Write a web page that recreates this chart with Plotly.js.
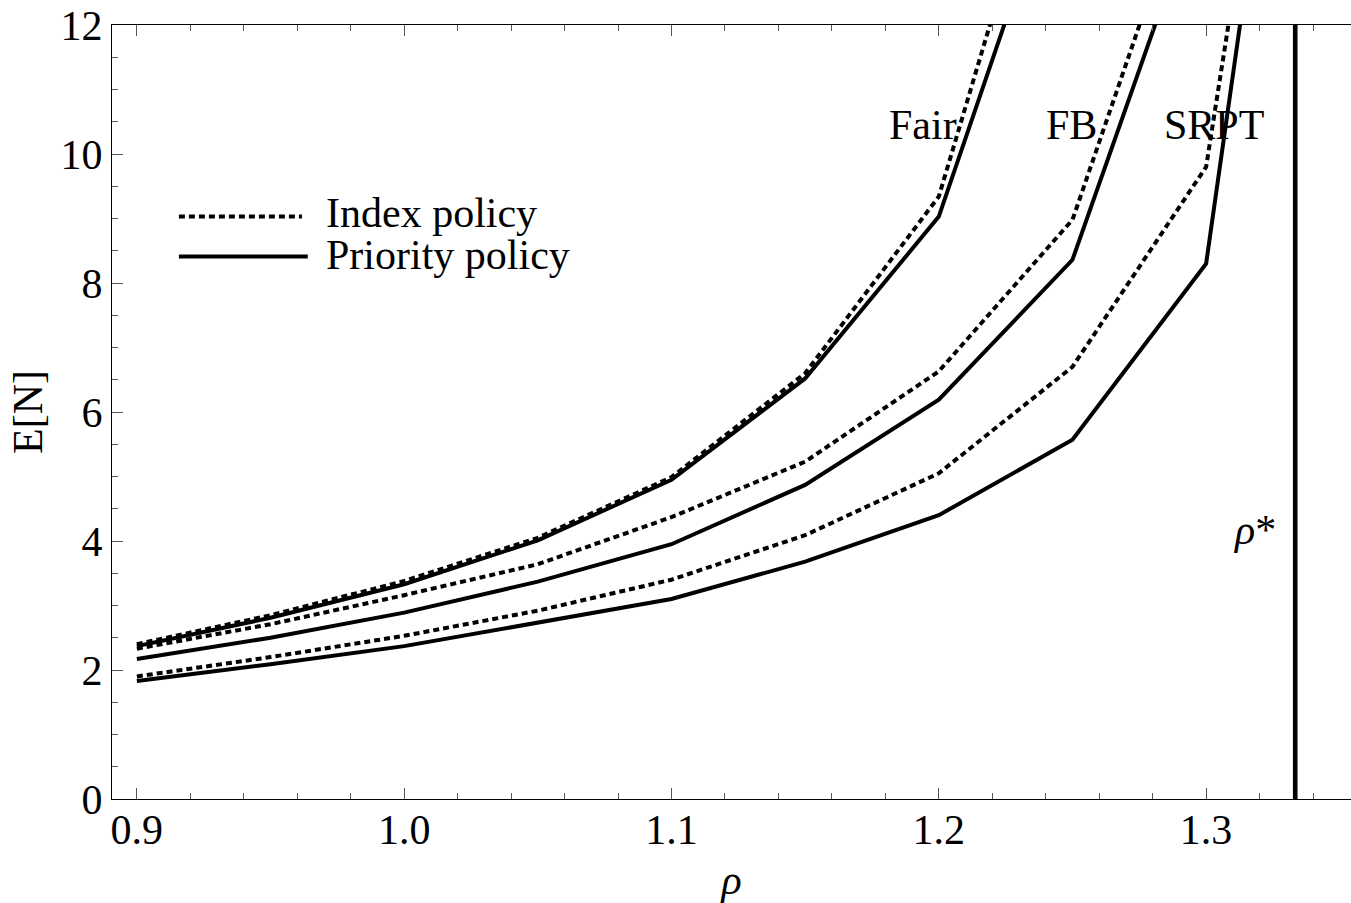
<!DOCTYPE html>
<html>
<head>
<meta charset="utf-8">
<script src="https://cdn.plot.ly/plotly-3.0.1.min.js"></script>
<style>
  html, body { margin: 0; padding: 0; background: #fff; }
  #chart { width: 1351px; height: 903px; }
</style>
</head>
<body>
<div id="chart"></div>
<script>
// Load values rho and mean number in system E[N] for each scheduling rule
const rho = [0.90, 0.95, 1.00, 1.05, 1.10, 1.15, 1.20, 1.25, 1.30, 1.35];

const fairIndex    = [2.40, 2.85, 3.38, 4.05, 4.99, 6.60, 9.34, 16.3];
const fairPriority = [2.37, 2.81, 3.33, 4.01, 4.95, 6.52, 9.03, 15.1];
const fbIndex      = [2.33, 2.71, 3.16, 3.64, 4.37, 5.23, 6.63, 8.98, 15.0];
const fbPriority   = [2.17, 2.50, 2.89, 3.37, 3.95, 4.87, 6.19, 8.36, 14.25];
const srptIndex    = [1.90, 2.20, 2.53, 2.92, 3.40, 4.09, 5.05, 6.70, 9.80, 23.0];
const srptPriority = [1.83, 2.09, 2.37, 2.73, 3.10, 3.68, 4.40, 5.57, 8.30, 22.9];

// Stability threshold rho*
const rhoStar = 4 / 3;
const yLimits = [0, 12];

// Curve labels: [text, rho, E[N]]
const curveLabels = [["Fair", 1.194, 10.45], ["FB", 1.2495, 10.45], ["SRPT", 1.303, 10.45]];
const legendItems = ["Index policy", "Priority policy"];

const DOTTED = { color: "black", width: 4, dash: "6px,4px" };
const SOLID  = { color: "black", width: 4 };

function curve(y, line) {
  return { x: rho.slice(0, y.length), y: y, mode: "lines", line: line,
           hoverinfo: "x+y", showlegend: false };
}

const traces = [
  curve(fairIndex, DOTTED), curve(fairPriority, SOLID),
  curve(fbIndex, DOTTED),   curve(fbPriority, SOLID),
  curve(srptIndex, DOTTED), curve(srptPriority, SOLID),
  { x: [rhoStar, rhoStar], y: yLimits, mode: "lines",
    line: { color: "black", width: 4.6 }, showlegend: false, hoverinfo: "x" }
];

const FONT = { family: "Liberation Serif, Times New Roman, serif", size: 42, color: "black" };
const TICKC = "#555";

const annotations = curveLabels.map(([t, x, y]) => ({
  text: t, x: x, y: y, xref: "x", yref: "y", showarrow: false,
  xanchor: "center", yanchor: "middle", font: FONT
}));
annotations.push({ text: "<i>ρ</i>*", x: 1.318, y: 4.17, xref: "x", yref: "y",
  showarrow: false, xanchor: "center", yanchor: "middle", font: FONT });

// Legend: long line samples with text to their right
const legendY = [0.757, 0.703];
const legendLineY = [0.7526, 0.701];
legendItems.forEach((t, i) => annotations.push({
  text: t, x: 0.1715, y: legendY[i], xref: "paper", yref: "paper", showarrow: false,
  xanchor: "left", yanchor: "middle", font: FONT
}));
const shapes = [
  { type: "line", xref: "paper", yref: "paper", x0: 0.054, x1: 0.1533,
    y0: legendLineY[0], y1: legendLineY[0], line: DOTTED },
  { type: "line", xref: "paper", yref: "paper", x0: 0.054, x1: 0.158,
    y0: legendLineY[1], y1: legendLineY[1], line: SOLID }
];

const layout = {
  width: 1351, height: 903,
  margin: { l: 112, r: 0, t: 25, b: 104 },
  paper_bgcolor: "white", plot_bgcolor: "white",
  font: FONT,
  showlegend: false,
  xaxis: {
    range: [0.8907, 1.3542], tick0: 0.9, dtick: 0.1, tickformat: ".1f",
    ticks: "inside", ticklen: 11, tickwidth: 1, tickcolor: TICKC,
    showline: true, linecolor: "black", linewidth: 1, mirror: "ticks",
    showgrid: false, zeroline: false, ticklabelstandoff: -6,
    minor: { tick0: 0.9, dtick: 0.02, ticks: "inside", ticklen: 6, tickwidth: 1,
             tickcolor: TICKC, showgrid: false },
    title: { text: "<i>ρ</i>", font: FONT, standoff: 30 }
  },
  yaxis: {
    range: yLimits, tick0: 0, dtick: 2,
    ticks: "inside", ticklen: 11, tickwidth: 1, tickcolor: TICKC,
    showline: true, linecolor: "black", linewidth: 1, mirror: false,
    showgrid: false, zeroline: false, ticklabelstandoff: 0,
    minor: { tick0: 0, dtick: 0.5, ticks: "inside", ticklen: 6, tickwidth: 1,
             tickcolor: TICKC, showgrid: false },
    title: { text: "E[N]", font: FONT, standoff: 4 }
  },
  annotations: annotations,
  shapes: shapes
};

Plotly.newPlot("chart", traces, layout, { displayModeBar: false, staticPlot: true });
</script>
</body>
</html>
